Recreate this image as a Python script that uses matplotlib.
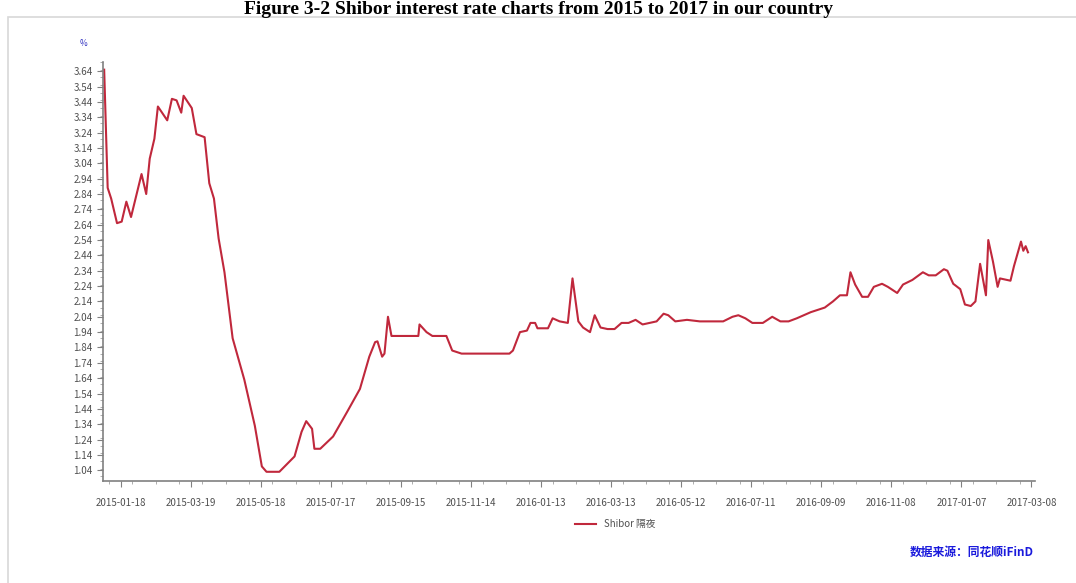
import matplotlib.pyplot as plt
import matplotlib.dates as mdates
from matplotlib.patches import Rectangle
from matplotlib.ticker import MultipleLocator, FixedLocator
import pandas as pd

# Shibor overnight, values
dates = [
    "2015-01-04", "2015-01-07", "2015-01-10", "2015-01-15", "2015-01-19", "2015-01-23",
    "2015-01-27", "2015-02-05", "2015-02-09", "2015-02-12", "2015-02-16", "2015-02-19",
    "2015-02-27", "2015-03-03", "2015-03-07", "2015-03-11", "2015-03-13", "2015-03-20",
    "2015-03-24", "2015-03-31", "2015-04-04", "2015-04-08", "2015-04-12", "2015-04-17",
    "2015-04-24", "2015-05-04", "2015-05-13", "2015-05-19", "2015-05-23", "2015-06-03",
    "2015-06-16", "2015-06-22", "2015-06-26", "2015-07-01", "2015-07-03", "2015-07-08",
    "2015-07-19", "2015-07-31", "2015-08-11", "2015-08-19", "2015-08-24", "2015-08-26",
    "2015-08-30", "2015-09-01", "2015-09-04", "2015-09-07", "2015-09-30", "2015-10-01",
    "2015-10-07", "2015-10-12", "2015-10-24", "2015-10-29", "2015-11-06", "2015-12-17",
    "2015-12-20", "2015-12-26", "2016-01-01", "2016-01-04", "2016-01-08", "2016-01-10",
    "2016-01-19", "2016-01-23", "2016-01-29", "2016-02-05", "2016-02-09", "2016-02-14",
    "2016-02-18", "2016-02-24", "2016-02-28", "2016-03-04", "2016-03-10", "2016-03-16",
    "2016-03-22", "2016-03-28", "2016-04-03", "2016-04-09", "2016-04-15", "2016-04-21",
    "2016-04-27", "2016-05-01", "2016-05-07", "2016-05-17", "2016-05-28", "2016-06-17",
    "2016-06-25", "2016-06-30", "2016-07-06", "2016-07-12", "2016-07-21", "2016-07-29",
    "2016-08-05", "2016-08-12", "2016-08-19", "2016-08-22", "2016-08-31", "2016-09-12",
    "2016-09-19", "2016-09-25", "2016-10-01", "2016-10-04", "2016-10-08", "2016-10-14",
    "2016-10-19", "2016-10-24", "2016-10-31", "2016-11-05", "2016-11-13", "2016-11-18",
    "2016-11-26", "2016-12-05", "2016-12-10", "2016-12-16", "2016-12-23", "2016-12-26",
    "2016-12-31", "2017-01-06", "2017-01-10", "2017-01-15", "2017-01-19", "2017-01-23",
    "2017-01-28", "2017-01-30", "2017-02-03", "2017-02-07", "2017-02-09", "2017-02-18",
    "2017-02-21", "2017-02-27", "2017-03-01", "2017-03-03", "2017-03-05",
]
rates = [
    3.65, 2.88, 2.81, 2.65, 2.66, 2.79,
    2.69, 2.97, 2.84, 3.07, 3.20, 3.41,
    3.32, 3.46, 3.45, 3.37, 3.48, 3.40,
    3.23, 3.21, 2.91, 2.81, 2.55, 2.33,
    1.90, 1.63, 1.33, 1.065, 1.03, 1.03,
    1.13, 1.29, 1.36, 1.31, 1.18, 1.18,
    1.26, 1.42, 1.57, 1.78, 1.875, 1.88,
    1.78, 1.80, 2.04, 1.915, 1.915, 1.99,
    1.94, 1.915, 1.915, 1.82, 1.80, 1.80,
    1.82, 1.94, 1.95, 2.00, 2.00, 1.965,
    1.965, 2.03, 2.01, 2.00, 2.29, 2.01,
    1.97, 1.94, 2.05, 1.97, 1.96, 1.96,
    2.00, 2.00, 2.02, 1.99, 2.00, 2.01,
    2.06, 2.05, 2.01, 2.02, 2.01, 2.01,
    2.04, 2.05, 2.03, 2.00, 2.00, 2.04,
    2.01, 2.01, 2.03, 2.04, 2.07, 2.10,
    2.14, 2.18, 2.18, 2.33, 2.25, 2.17,
    2.17, 2.235, 2.255, 2.235, 2.195, 2.25,
    2.28, 2.33, 2.31, 2.31, 2.35, 2.34,
    2.255, 2.22, 2.12, 2.11, 2.14, 2.385,
    2.18, 2.54, 2.40, 2.235, 2.29, 2.275,
    2.37, 2.53, 2.47, 2.50, 2.46,
]
x_ticks = ["2015-01-18", "2015-03-19", "2015-05-18", "2015-07-17", "2015-09-15",
           "2015-11-14", "2016-01-13", "2016-03-13", "2016-05-12", "2016-07-11",
           "2016-09-09", "2016-11-08", "2017-01-07", "2017-03-08"]
y_ticks = [1.04 + 0.1 * i for i in range(27)]

plt.rcParams['font.family'] = ['Noto Sans CJK SC', 'DejaVu Sans']

fig = plt.figure(figsize=(10.76, 5.83), dpi=100)

# outer frame of the screenshot
fig.patches.append(Rectangle((8 / 1076, -0.01), 1.0, 1 - 17 / 583 + 0.01,
                             transform=fig.transFigure, fill=False,
                             edgecolor='#d8d8d8', linewidth=1.2))

fig.text(0.5, 1 - 1 / 583, "Figure 3-2 Shibor interest rate charts from 2015 to 2017 in our country",
         ha='center', va='top', fontsize=14, fontweight='bold',
         family='Liberation Serif')

ax = fig.add_axes([103 / 1076, 1 - 481 / 583, (1035 - 103) / 1076, (481 - 62) / 583])

dt = pd.to_datetime(dates)
ax.plot(dt, rates, color='#c0283c', linewidth=1.5, label='Shibor 隔夜')

ax.set_xlim(pd.Timestamp("2015-01-03"), pd.Timestamp("2017-03-11"))
ax.set_ylim(0.97, 3.70)

tick_dt = pd.to_datetime(x_ticks)
ax.xaxis.set_major_locator(FixedLocator(mdates.date2num(tick_dt)))
ax.set_xticklabels(x_ticks)
ax.xaxis.set_minor_locator(FixedLocator(
    mdates.date2num(pd.date_range("2014-12-19", "2017-03-11", freq="20D"))))
ax.set_yticks(y_ticks)
ax.set_yticklabels([f"{v:.2f}" for v in y_ticks])
ax.yaxis.set_minor_locator(MultipleLocator(0.05))

for s in ['top', 'right']:
    ax.spines[s].set_visible(False)
for s in ['left', 'bottom']:
    ax.spines[s].set_color('#808080')
    ax.spines[s].set_linewidth(1.2)

ax.tick_params(axis='both', which='major', labelsize=7, colors='#808080',
               labelcolor='#505050', length=4)
ax.tick_params(axis='both', which='minor', colors='#a0a0a0', length=2)
ax.tick_params(axis='x', pad=8)

fig.text(84 / 1076, 1 - 43 / 583, "%", color='#3030c0', fontsize=6,
         ha='center', va='center')

ax.legend(loc='center', bbox_to_anchor=(615 / 1076, 1 - 524 / 583),
          bbox_transform=fig.transFigure, frameon=False, fontsize=7,
          handlelength=2.2, labelcolor='#505050')

fig.text(972 / 1076, 1 - 552 / 583, "数据来源：同花顺iFinD", color='#1a1adc',
         fontsize=8.5, fontweight='bold', ha='center', va='center')

fig.savefig("out.png", dpi=100)
